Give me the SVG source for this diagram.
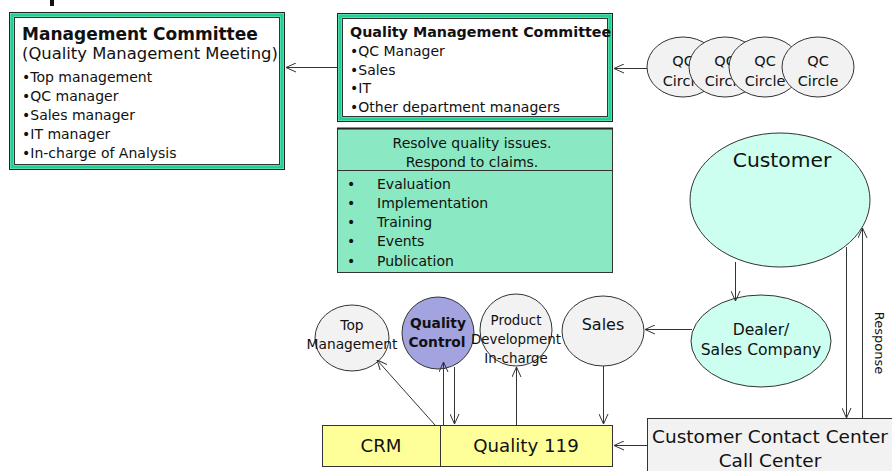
<svg xmlns="http://www.w3.org/2000/svg" width="892" height="471" viewBox="0 0 892 471">
<style>
text{font-family:"DejaVu Sans",Verdana,sans-serif;fill:#111}
.b{font-weight:bold}
.c{text-anchor:middle}
.outer{fill:#fff;stroke:#222;stroke-width:1}
.band{fill:none;stroke:#1fd193;stroke-width:3.5}
.inner{fill:none;stroke:#333;stroke-width:1}
.gray{fill:#f2f2f2;stroke:#333;stroke-width:1}
.aqua{fill:#ccfff0;stroke:#333;stroke-width:1}
.con line{stroke:#333;stroke-width:1;marker-end:url(#arr)}
</style>
<defs>
<marker id="arr" viewBox="0 0 10 10" refX="10" refY="5" markerWidth="10" markerHeight="10" markerUnits="userSpaceOnUse" orient="auto">
<path d="M0,0.5 L10,5 L0,9.5" fill="none" stroke="#333" stroke-width="1"/>
</marker>
</defs>
<rect width="892" height="471" fill="#fff"/>
<rect x="50" y="0" width="4" height="6" fill="#111"/>

<g id="management-committee">
<rect class="outer" x="9.5" y="12.5" width="275" height="157"/>
<rect class="band" x="12" y="15" width="270" height="152"/>
<rect class="inner" x="14.5" y="17.5" width="265" height="147"/>
<text class="b" x="22" y="40" font-size="17">Management Committee</text>
<text x="22" y="59" font-size="16.4">(Quality Management Meeting)</text>
<text x="22" y="82" font-size="14">•Top management</text>
<text x="22" y="101" font-size="14">•QC manager</text>
<text x="22" y="120" font-size="14">•Sales manager</text>
<text x="22" y="139" font-size="14">•IT manager</text>
<text x="22" y="158" font-size="14">•In-charge of Analysis</text>
</g>

<g id="quality-management-committee">
<rect class="outer" x="337.5" y="13.5" width="275" height="108"/>
<rect class="band" x="340" y="16" width="270" height="103"/>
<rect class="inner" x="342.5" y="18.5" width="265" height="98"/>
<text class="b" x="350" y="37" font-size="14.3">Quality Management Committee</text>
<text x="350" y="56" font-size="14">•QC Manager</text>
<text x="350" y="75" font-size="14">•Sales</text>
<text x="350" y="93" font-size="14">•IT</text>
<text x="350" y="112" font-size="14">•Other department managers</text>
</g>

<g id="activities">
<rect x="337.5" y="128.5" width="275" height="144" fill="#8ae8c2" stroke="#333" stroke-width="1"/>
<line x1="337" y1="128.5" x2="613" y2="128.5" stroke="#222" stroke-width="2"/>
<line x1="337" y1="170.5" x2="613" y2="170.5" stroke="#333" stroke-width="1"/>
<text class="c" x="472" y="148" font-size="14">Resolve quality issues.</text>
<text class="c" x="472" y="167" font-size="14">Respond to claims.</text>
<text x="347" y="189" font-size="14">•</text><text x="377" y="189" font-size="14">Evaluation</text>
<text x="347" y="208" font-size="14">•</text><text x="377" y="208" font-size="14">Implementation</text>
<text x="347" y="227" font-size="14">•</text><text x="377" y="227" font-size="14">Training</text>
<text x="347" y="246" font-size="14">•</text><text x="377" y="246" font-size="14">Events</text>
<text x="347" y="266" font-size="14">•</text><text x="377" y="266" font-size="14">Publication</text>
</g>

<g id="qc-circle-1">
<ellipse class="gray" cx="683" cy="67" rx="36" ry="30"/>
<text class="c" x="683" y="66" font-size="14.5">QC</text>
<text class="c" x="683" y="86" font-size="14.5">Circle</text>
</g>
<g id="qc-circle-2">
<ellipse class="gray" cx="725" cy="67" rx="36" ry="30"/>
<text class="c" x="725" y="66" font-size="14.5">QC</text>
<text class="c" x="725" y="86" font-size="14.5">Circle</text>
</g>
<g id="qc-circle-3">
<ellipse class="gray" cx="765" cy="67" rx="36" ry="30"/>
<text class="c" x="765" y="66" font-size="14.5">QC</text>
<text class="c" x="765" y="86" font-size="14.5">Circle</text>
</g>
<g id="qc-circle-4">
<ellipse class="gray" cx="818" cy="67" rx="36" ry="30"/>
<text class="c" x="818" y="66" font-size="14.5">QC</text>
<text class="c" x="818" y="86" font-size="14.5">Circle</text>
</g>

<g id="customer">
<ellipse class="aqua" cx="780" cy="200" rx="90" ry="67"/>
<text class="c" x="782" y="167" font-size="20.3">Customer</text>
</g>

<g id="dealer">
<ellipse class="aqua" cx="761" cy="341" rx="70" ry="46"/>
<text class="c" x="761" y="335" font-size="15.6">Dealer/</text>
<text class="c" x="761" y="355" font-size="15.6">Sales Company</text>
</g>

<g id="sales">
<ellipse class="gray" cx="603" cy="331" rx="41" ry="35"/>
<text class="c" x="603" y="330" font-size="16">Sales</text>
</g>

<g id="top-management">
<ellipse class="gray" cx="352" cy="338" rx="37" ry="33"/>
<text class="c" x="352" y="330" font-size="13.8">Top</text>
<text class="c" x="352" y="349" font-size="13.8">Management</text>
</g>

<g id="quality-control">
<circle cx="438" cy="333" r="36" fill="#a3a3e0" stroke="#333" stroke-width="1"/>
<text class="c b" x="438" y="328" font-size="13.8">Quality</text>
<text class="c b" x="437" y="347" font-size="13.8">Control</text>
</g>

<g id="product-development">
<circle cx="516" cy="330" r="36" class="gray"/>
<text class="c" x="516" y="325" font-size="13.4">Product</text>
<text class="c" x="516" y="344" font-size="13.4">Development</text>
<text class="c" x="516" y="363" font-size="13.4">In-charge</text>
</g>

<g id="crm-quality119">
<rect x="322.5" y="425.5" width="290" height="41" fill="#ffff99" stroke="#333" stroke-width="1"/>
<line x1="440.5" y1="425" x2="440.5" y2="467" stroke="#333" stroke-width="1"/>
<text class="c" x="381" y="452" font-size="18.2">CRM</text>
<text class="c" x="526" y="452" font-size="18.2">Quality 119</text>
</g>

<g id="call-center">
<rect x="647.5" y="418.5" width="250" height="60" class="gray"/>
<text class="c" x="770" y="443" font-size="18.5">Customer Contact Center</text>
<text class="c" x="770" y="467" font-size="18.5">Call Center</text>
</g>

<g id="connectors" class="con">
<line x1="337" y1="67.5" x2="286" y2="67.5"/>
<line x1="647" y1="68.5" x2="614" y2="68.5"/>
<line x1="735.5" y1="262" x2="735.5" y2="301"/>
<line x1="692" y1="329.5" x2="645" y2="329.5"/>
<line x1="846.5" y1="247" x2="846.5" y2="418"/>
<line x1="862.5" y1="418" x2="862.5" y2="228"/>
<line x1="647" y1="445.5" x2="614" y2="445.5"/>
<line x1="435" y1="425" x2="377" y2="360"/>
<line x1="443.5" y1="425" x2="443.5" y2="362"/>
<line x1="454.5" y1="367" x2="454.5" y2="424"/>
<line x1="516.5" y1="425" x2="516.5" y2="367"/>
<line x1="603.5" y1="366" x2="603.5" y2="424"/>
<text x="875" y="343" font-size="13" text-anchor="middle" transform="rotate(90 875 343)">Response</text>
</g>
</svg>
